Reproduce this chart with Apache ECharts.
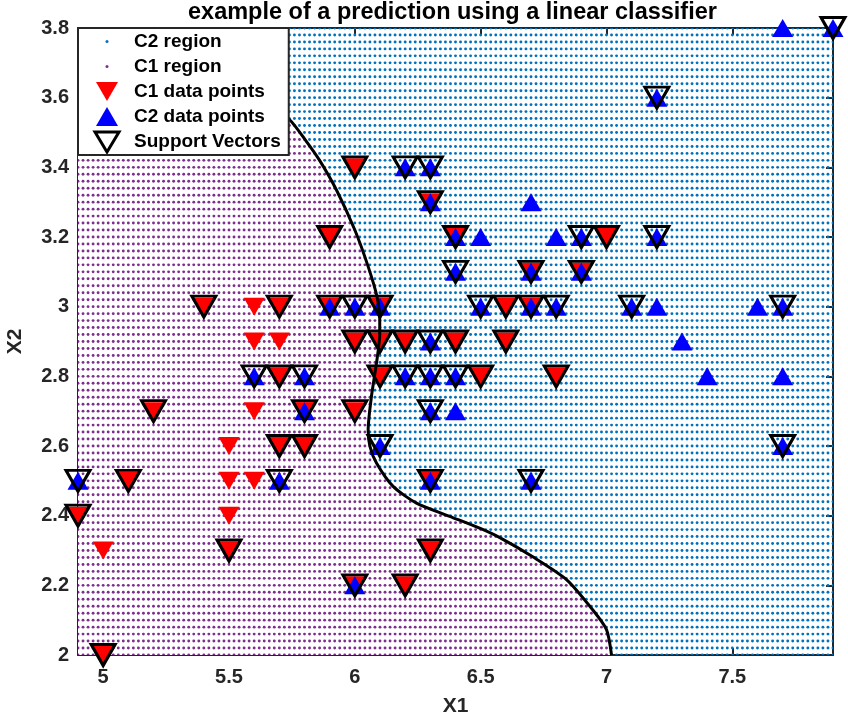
<!DOCTYPE html>
<html>
<head>
<meta charset="utf-8">
<script src="https://cdn.jsdelivr.net/npm/echarts@6/dist/echarts.min.js"></script>
<style>
  html, body { margin: 0; padding: 0; background: #fff; }
  #chart { width: 848px; height: 725px; }
</style>
</head>
<body>
<div id="chart"></div>
<script>
// axes
const xRange = [4.9, 7.9];
const yRange = [2, 3.8];
const xTicks = [5, 5.5, 6, 6.5, 7, 7.5];
const yTicks = [2, 2.2, 2.4, 2.6, 2.8, 3, 3.2, 3.4, 3.6, 3.8];
const meshStep = 0.02; // spacing of the dotted region grid

// C1 points (red, pointing down)
const c1Points = [
  [7.0, 3.2], [6.4, 3.2], [6.9, 3.1], [5.5, 2.3], [6.5, 2.8], [5.7, 2.8], [6.3, 3.3], [4.9, 2.4],
  [6.6, 2.9], [5.2, 2.7], [5.0, 2.0], [5.9, 3.0], [6.0, 2.2], [6.1, 2.9], [5.6, 2.9], [6.7, 3.1],
  [5.6, 3.0], [5.8, 2.7], [6.2, 2.2], [5.6, 2.5], [5.9, 3.2], [6.1, 2.8], [6.3, 2.5], [6.4, 2.9],
  [6.6, 3.0], [6.8, 2.8], [6.7, 3.0], [6.0, 2.9], [5.7, 2.6], [5.5, 2.4], [5.8, 2.7], [6.0, 2.7],
  [5.4, 3.0], [6.0, 3.4], [6.3, 2.3], [5.5, 2.5], [5.5, 2.6], [6.1, 3.0], [5.8, 2.6], [5.0, 2.3],
  [5.6, 2.7], [5.7, 3.0], [5.7, 2.9], [6.2, 2.9], [5.1, 2.5]
];

// C2 points (blue, pointing up)
const c2Points = [
  [6.3, 3.3], [5.8, 2.7], [7.1, 3.0], [6.3, 2.9], [6.5, 3.0], [7.6, 3.0], [4.9, 2.5], [7.3, 2.9],
  [6.7, 2.5], [7.2, 3.6], [6.5, 3.2], [6.4, 2.7], [6.8, 3.0], [5.7, 2.5], [5.8, 2.8], [6.4, 3.2],
  [7.7, 3.8], [7.7, 2.6], [6.0, 2.2], [6.9, 3.2], [5.6, 2.8], [7.7, 2.8], [6.3, 2.7], [6.7, 3.3],
  [7.2, 3.2], [6.2, 2.8], [6.1, 3.0], [6.4, 2.8], [7.2, 3.0], [7.4, 2.8], [7.9, 3.8], [6.3, 2.8],
  [6.1, 2.6], [7.7, 3.0], [6.3, 3.4], [6.4, 3.1], [6.0, 3.0], [6.9, 3.1], [6.7, 3.1], [6.8, 3.2],
  [6.7, 3.0], [6.3, 2.5], [6.2, 3.4], [5.9, 3.0]
];

const supportVectors = [
  [6.0, 3.4], [6.2, 3.4], [6.3, 3.4], [6.3, 3.3], [5.9, 3.2], [6.4, 3.2], [6.9, 3.2], [7.0, 3.2],
  [7.2, 3.2], [6.4, 3.1], [6.7, 3.1], [6.9, 3.1], [5.4, 3.0], [5.7, 3.0], [5.9, 3.0], [6.0, 3.0],
  [6.1, 3.0], [6.5, 3.0], [6.6, 3.0], [6.7, 3.0], [6.8, 3.0], [7.1, 3.0], [7.7, 3.0], [6.0, 2.9],
  [6.1, 2.9], [6.2, 2.9], [6.3, 2.9], [6.4, 2.9], [6.6, 2.9], [5.6, 2.8], [5.7, 2.8], [5.8, 2.8],
  [6.1, 2.8], [6.2, 2.8], [6.3, 2.8], [6.4, 2.8], [6.5, 2.8], [6.8, 2.8], [5.2, 2.7], [5.8, 2.7],
  [6.0, 2.7], [6.3, 2.7], [5.7, 2.6], [5.8, 2.6], [6.1, 2.6], [7.7, 2.6], [4.9, 2.5], [5.1, 2.5],
  [5.7, 2.5], [6.3, 2.5], [6.7, 2.5], [4.9, 2.4], [5.5, 2.3], [6.3, 2.3], [6.0, 2.2], [6.2, 2.2],
  [5.0, 2.0], [7.2, 3.6], [7.9, 3.8]
];

// decision boundary, top to bottom
const boundary = [
  [5.20, 3.80], [5.45, 3.70], [5.62, 3.61], [5.742, 3.536], [5.803, 3.479], [5.86, 3.42],
  [5.927, 3.335], [6.0, 3.22], [6.053, 3.115], [6.088, 3.029], [6.099, 2.962], [6.099, 2.92],
  [6.086, 2.838], [6.066, 2.742], [6.053, 2.647], [6.06, 2.599], [6.086, 2.551], [6.152, 2.484],
  [6.245, 2.436], [6.377, 2.398], [6.496, 2.364], [6.576, 2.337], [6.707, 2.282], [6.842, 2.216],
  [6.945, 2.13], [7.0, 2.073], [7.02, 2.0]
];

const c2Region = [[4.9, 2.0], [7.9, 2.0], [7.9, 3.8], [4.9, 3.8]];
const c1Region = boundary.concat([[4.9, 2.0], [4.9, 3.8]]);

const GRID = { left: 78, top: 28, width: 755, height: 627, outerBoundsMode: 'none', containLabel: false };
const INK = '#262626';
const FONT = '"Liberation Sans", Arial, sans-serif';

// dotted texture, drawn once in page pixels so both regions share the same grid
function dotTexture(color, bg) {
  const c = document.createElement('canvas');
  c.width = 848; c.height = 725;
  const g = c.getContext('2d');
  if (bg) { g.fillStyle = bg; g.fillRect(0, 0, c.width, c.height); }
  g.fillStyle = color;
  const nx = Math.round((xRange[1] - xRange[0]) / meshStep);
  const ny = Math.round((yRange[1] - yRange[0]) / meshStep);
  const dx = GRID.width / nx, dy = GRID.height / ny;
  for (let i = 0; i <= nx; i++) {
    for (let j = 0; j <= ny; j++) {
      g.beginPath();
      g.arc(GRID.left + i * dx, GRID.top + GRID.height - j * dy, 1.45, 0, Math.PI * 2);
      g.fill();
    }
  }
  return c;
}

// legend icons
const IW = 43, IH = 25, CX = 21;
function icon(draw) {
  const c = document.createElement('canvas');
  c.width = IW; c.height = IH;
  const g = c.getContext('2d');
  draw(g);
  return 'image://' + c.toDataURL();
}
const dotIcon = col => icon(g => { g.fillStyle = col; g.beginPath(); g.arc(CX, IH / 2, 1.5, 0, Math.PI * 2); g.fill(); });
const triIcon = (col, down) => icon(g => {
  g.fillStyle = col; g.beginPath();
  if (down) { g.moveTo(CX - 11, 3); g.lineTo(CX + 11, 3); g.lineTo(CX, 22); }
  else { g.moveTo(CX, 3); g.lineTo(CX + 11, 22); g.lineTo(CX - 11, 22); }
  g.closePath(); g.fill();
});
const svIcon = icon(g => {
  g.strokeStyle = '#000'; g.lineWidth = 3; g.beginPath();
  g.moveTo(CX - 12, 3); g.lineTo(CX + 12, 3); g.lineTo(CX, 23); g.closePath(); g.stroke();
});

const blueDots = dotTexture('#0072BD', null);
const purpleDots = dotTexture('#7E2F8E', '#ffffff');

function regionSeries(name, polygon, texture) {
  return {
    name: name,
    type: 'custom',
    silent: true,
    data: polygon,
    encode: { x: 0, y: 1 },
    z: 1,
    renderItem: function (params, api) {
      if (params.dataIndex !== 0) return null;
      return {
        type: 'polygon',
        shape: { points: polygon.map(p => api.coord(p)) },
        style: { fill: { image: texture, repeat: 'repeat' } }
      };
    }
  };
}

const labelStyle = { fontFamily: FONT, fontWeight: 'bold', fontSize: 20, color: INK };

const chart = echarts.init(document.getElementById('chart'));
chart.setOption({
  animation: false,
  backgroundColor: '#fff',
  title: {
    text: 'example of a prediction using a linear classifier',
    left: 188, top: 0,
    padding: [1, 0, 0, 0],
    textStyle: { fontFamily: FONT, fontWeight: 'bold', fontSize: 23.5, color: '#000' }
  },
  grid: GRID,
  legend: {
    orient: 'vertical', left: 78, top: 28, z: 20,
    itemWidth: IW, itemHeight: IH, itemGap: 0,
    padding: [1, 8, 1, 8],
    backgroundColor: '#fff', borderColor: INK, borderWidth: 2,
    selectedMode: false,
    textStyle: { fontFamily: FONT, fontWeight: 'bold', fontSize: 19, color: '#000' },
    data: [
      { name: 'C2 region', icon: dotIcon('#0072BD') },
      { name: 'C1 region', icon: dotIcon('#7E2F8E') },
      { name: 'C1 data points', icon: triIcon('#ff0000', true) },
      { name: 'C2 data points', icon: triIcon('#0000ff', false) },
      { name: 'Support Vectors', icon: svIcon }
    ]
  },
  xAxis: [{
    type: 'value', min: xRange[0], max: xRange[1], position: 'bottom',
    name: 'X1', nameLocation: 'middle', nameGap: 41,
    nameTextStyle: { fontFamily: FONT, fontWeight: 'bold', fontSize: 21, color: INK },
    axisLine: { lineStyle: { color: INK, width: 2 } },
    axisTick: { inside: true, length: 7, customValues: xTicks, lineStyle: { color: INK, width: 2 } },
    axisLabel: Object.assign({ customValues: xTicks, margin: 12 }, labelStyle),
    splitLine: { show: false }
  }, {
    type: 'value', min: xRange[0], max: xRange[1], position: 'top',
    axisLine: { lineStyle: { color: INK, width: 2 } },
    axisTick: { inside: true, length: 7, customValues: xTicks, lineStyle: { color: INK, width: 2 } },
    axisLabel: { show: false },
    splitLine: { show: false }
  }],
  yAxis: [{
    type: 'value', min: yRange[0], max: yRange[1], position: 'left',
    name: 'X2', nameLocation: 'middle', nameGap: 52,
    nameTextStyle: { fontFamily: FONT, fontWeight: 'bold', fontSize: 21, color: INK },
    axisLine: { lineStyle: { color: INK, width: 2 } },
    axisTick: { inside: true, length: 7, customValues: yTicks, lineStyle: { color: INK, width: 2 } },
    axisLabel: Object.assign({ customValues: yTicks, margin: 9 }, labelStyle),
    splitLine: { show: false }
  }, {
    type: 'value', min: yRange[0], max: yRange[1], position: 'right',
    axisLine: { lineStyle: { color: INK, width: 2 } },
    axisTick: { inside: true, length: 7, customValues: yTicks, lineStyle: { color: INK, width: 2 } },
    axisLabel: { show: false },
    splitLine: { show: false }
  }],
  series: [
    regionSeries('C2 region', c2Region, blueDots),
    regionSeries('C1 region', c1Region, purpleDots),
    {
      name: 'C1 data points', type: 'scatter', data: c1Points, z: 3,
      symbol: 'triangle', symbolRotate: 180, symbolSize: [21, 18],
      itemStyle: { color: '#ff0000', opacity: 1 }
    },
    {
      name: 'C2 data points', type: 'scatter', data: c2Points, z: 3,
      symbol: 'triangle', symbolSize: [21, 18],
      itemStyle: { color: '#0000ff', opacity: 1 }
    },
    {
      name: 'Support Vectors', type: 'scatter', data: supportVectors, z: 4,
      symbol: 'triangle', symbolRotate: 180, symbolSize: [24, 21],
      itemStyle: { color: 'rgba(0,0,0,0)', borderColor: '#000', borderWidth: 3, opacity: 1 }
    },
    {
      name: 'boundary', type: 'line', data: boundary, z: 5, silent: true,
      symbol: 'none', smooth: 0.25,
      lineStyle: { color: '#000', width: 3 }
    }
  ]
});
</script>
</body>
</html>
